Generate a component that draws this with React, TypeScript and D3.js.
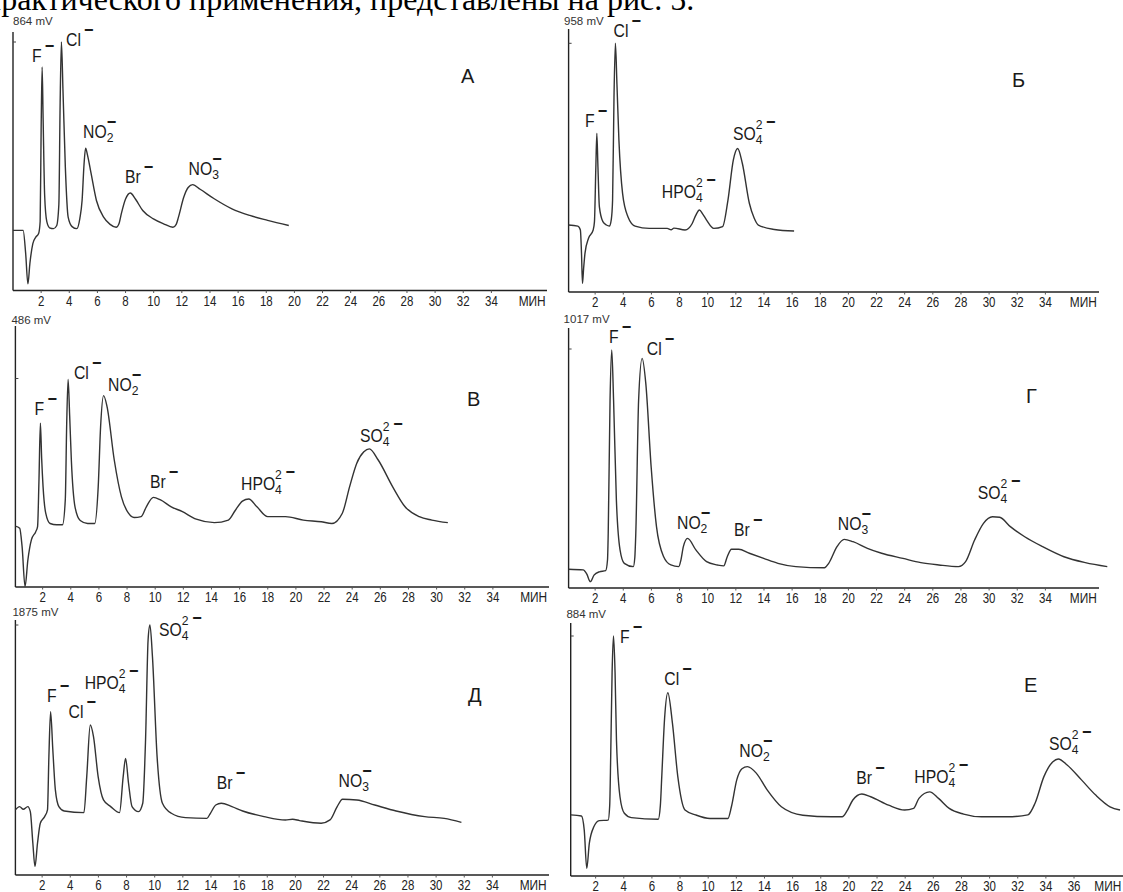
import React from 'react';
import * as d3 from 'd3';

// ---------- data (time, min ; signal, mV) ----------
const TICKS_34 = [2, 4, 6, 8, 10, 12, 14, 16, 18, 20, 22, 24, 26, 28, 30, 32, 34];
const TICKS_36 = [2, 4, 6, 8, 10, 12, 14, 16, 18, 20, 22, 24, 26, 28, 30, 32, 34, 36];
const UNIT = 'МИН';
const HEADER = 'практического применения, представлены на рис. 5.';

const seriesA: [number, number][] = [
  [0, 209], [0.72, 209], [0.9, 129], [1.06, 23], [1.2, 94], [1.41, 163], [1.61, 185], [1.82, 198],
  [1.93, 240], [2.0, 560], [2.07, 777], [2.14, 600], [2.25, 330], [2.4, 240], [2.6, 218], [2.88, 215],
  [3.1, 225], [3.26, 300], [3.35, 650], [3.44, 864], [3.55, 700], [3.72, 429], [3.92, 255], [4.2, 222],
  [4.53, 215], [4.75, 250], [4.91, 313], [5.05, 440], [5.16, 495], [5.3, 470], [5.55, 407], [5.93, 313],
  [6.44, 255], [6.9, 230], [7.33, 220], [7.55, 235], [7.7, 267], [8.0, 318], [8.34, 339], [8.7, 318],
  [9.22, 278], [9.98, 249], [10.7, 232], [11.37, 220], [11.6, 230], [11.76, 255], [12.14, 325],
  [12.45, 358], [12.77, 368], [13.3, 352], [14.3, 319], [15.56, 284], [16.83, 261], [18.1, 244], [19.6, 226],
];

const seriesB: [number, number][] = [
  [0.1, 258], [0.77, 254], [0.95, 239], [1.03, 150], [1.1, 33], [1.18, 90], [1.28, 150], [1.53, 207],
  [1.86, 239], [1.95, 270], [2.05, 480], [2.12, 611], [2.2, 480], [2.3, 329], [2.55, 271], [2.8, 258],
  [3.01, 254], [3.15, 280], [3.24, 354], [3.34, 750], [3.44, 958], [3.55, 800], [3.69, 585], [3.95, 380],
  [4.33, 290], [4.84, 254], [5.85, 245], [7.12, 245], [7.4, 240], [7.6, 246], [8.39, 239], [8.9, 264],
  [9.15, 295], [9.41, 316], [9.65, 300], [9.92, 277], [10.43, 245], [11.06, 252], [11.44, 354],
  [11.82, 508], [12.13, 553], [12.46, 496], [12.96, 342], [13.3, 285], [13.6, 258], [14.74, 241], [16.14, 235],
];

const seriesV: [number, number][] = [
  [0.06, 142], [0.37, 137], [0.54, 94], [0.75, 1], [0.95, 63], [1.2, 110], [1.51, 129], [1.64, 141],
  [1.74, 250], [1.84, 382], [1.93, 300], [2.03, 234], [2.22, 172], [2.53, 148], [3.0, 145], [3.41, 145],
  [3.61, 203], [3.71, 380], [3.81, 484], [3.92, 400], [4.04, 296], [4.3, 187], [4.67, 155], [5.2, 148],
  [5.7, 148], [5.95, 234], [6.12, 374], [6.33, 446], [6.58, 420], [7.09, 296], [7.6, 210], [8.1, 172],
  [8.5, 162], [9.0, 164], [9.37, 187], [9.87, 209], [10.38, 203], [11.14, 187], [11.9, 176], [12.92, 158],
  [14.2, 150], [15.2, 156], [15.7, 179], [16.2, 200], [16.65, 205], [17.23, 187], [17.99, 164],
  [19.26, 164], [20.53, 156], [21.8, 152], [22.56, 148], [23.3, 172], [23.82, 234], [24.32, 288],
  [24.83, 315], [25.22, 322], [25.85, 296], [26.87, 234], [27.76, 187], [28.77, 164], [29.66, 156], [30.8, 150],
];

const seriesG: [number, number][] = [
  [0.11, 80], [1.15, 77], [1.4, 60], [1.66, 27], [1.92, 55], [2.3, 69], [2.75, 74], [2.88, 120],
  [2.93, 233], [3.06, 800], [3.18, 1013], [3.31, 800], [3.51, 374], [3.77, 162], [4.07, 105], [4.71, 91],
  [4.82, 130], [4.89, 233], [5.09, 800], [5.34, 977], [5.6, 871], [5.98, 516], [6.36, 261], [6.87, 133],
  [7.38, 98], [7.94, 91], [8.1, 120], [8.27, 176], [8.57, 211], [9.16, 162], [9.92, 112], [10.68, 98],
  [11.14, 94], [11.39, 133], [11.69, 165], [12.2, 165], [12.96, 148], [13.98, 126], [14.99, 105],
  [16.27, 91], [18.3, 86], [18.6, 105], [19.19, 176], [19.7, 207], [20.33, 197], [21.35, 169],
  [22.36, 148], [23.88, 126], [25.15, 108], [26.43, 98], [27.82, 91], [28.33, 112], [28.97, 204],
  [29.6, 275], [30.24, 303], [30.75, 301], [31.51, 261], [32.53, 218], [33.8, 176], [35.32, 133],
  [36.84, 108], [38.4, 91],
];

const seriesD: [number, number][] = [
  [0.09, 488], [0.4, 513], [0.66, 493], [0.98, 513], [1.16, 475], [1.34, 238], [1.49, 63], [1.67, 238],
  [1.87, 388], [2.18, 438], [2.38, 488], [2.48, 888], [2.6, 1225], [2.76, 938], [2.94, 638], [3.19, 513],
  [3.57, 480], [4.97, 468], [5.17, 738], [5.42, 1125], [5.65, 1038], [5.98, 738], [6.36, 563], [6.87, 513],
  [7.5, 468], [7.76, 738], [7.93, 875], [8.14, 688], [8.39, 513], [8.85, 475], [9.15, 538], [9.35, 1013],
  [9.53, 1763], [9.66, 1875], [9.84, 1638], [10.17, 888], [10.55, 538], [11.18, 463], [12.19, 430],
  [13.71, 425], [13.96, 463], [14.34, 525], [14.73, 538], [15.49, 513], [16.25, 480], [17.77, 438],
  [19.29, 413], [19.8, 418], [20.3, 408], [21.83, 388], [22.46, 413], [22.97, 513], [23.35, 568],
  [24.37, 563], [25.64, 525], [27.16, 480], [29.19, 438], [30.58, 425], [31.8, 395],
];

const seriesE: [number, number][] = [
  [0.23, 225], [0.99, 221], [1.19, 169], [1.37, 28], [1.55, 120], [1.88, 182], [2.26, 204], [2.89, 206],
  [3.0, 260], [3.07, 439], [3.17, 750], [3.27, 884], [3.38, 750], [3.48, 501], [3.73, 292], [4.04, 231],
  [4.54, 215], [6.45, 209], [6.6, 260], [6.7, 366], [6.9, 580], [7.13, 675], [7.46, 562], [7.84, 366],
  [8.35, 243], [9.11, 225], [10.13, 212], [11.4, 212], [11.65, 255], [12.03, 354], [12.4, 395],
  [12.79, 403], [13.43, 378], [14.19, 317], [15.2, 255], [16.73, 224], [18.76, 218], [19.52, 218],
  [19.9, 243], [20.28, 280], [20.92, 302], [21.55, 292], [22.82, 261], [23.96, 243], [24.6, 249],
  [24.98, 286], [25.74, 310], [26.37, 286], [27.13, 249], [28.15, 228], [29.42, 218], [31.2, 218],
  [32.72, 225], [33.23, 268], [33.86, 366], [34.5, 421], [34.88, 431], [35.51, 409], [36.53, 354],
  [37.54, 298], [38.56, 255], [39.27, 243],
];

type Ion = { base: string; sub: string; sup: string; t: number; v: number };

const ionsA: Ion[] = [
  { base: 'F', sub: '', sup: '', t: 1.35, v: 794 },
  { base: 'Cl', sub: '', sup: '', t: 3.77, v: 851 },
  { base: 'NO', sub: '2', sup: '', t: 4.98, v: 531 },
  { base: 'Br', sub: '', sup: '', t: 7.96, v: 375 },
  { base: 'NO', sub: '3', sup: '', t: 12.48, v: 402 },
];
const ionsB: Ion[] = [
  { base: 'F', sub: '', sup: '', t: 1.28, v: 637 },
  { base: 'Cl', sub: '', sup: '', t: 3.31, v: 983 },
  { base: 'HPO', sub: '4', sup: '2', t: 6.74, v: 361 },
  { base: 'SO', sub: '4', sup: '2', t: 11.8, v: 586 },
];
const ionsV: Ion[] = [
  { base: 'F', sub: '', sup: '', t: 1.43, v: 401 },
  { base: 'Cl', sub: '', sup: '', t: 4.23, v: 484 },
  { base: 'NO', sub: '2', sup: '', t: 6.65, v: 458 },
  { base: 'Br', sub: '', sup: '', t: 9.63, v: 230 },
  { base: 'HPO', sub: '4', sup: '2', t: 16.1, v: 226 },
  { base: 'SO', sub: '4', sup: '2', t: 24.56, v: 339 },
];
const ionsG: Ion[] = [
  { base: 'F', sub: '', sup: '', t: 2.99, v: 1044 },
  { base: 'Cl', sub: '', sup: '', t: 5.67, v: 991 },
  { base: 'NO', sub: '2', sup: '', t: 7.82, v: 250 },
  { base: 'Br', sub: '', sup: '', t: 11.87, v: 221 },
  { base: 'NO', sub: '3', sup: '', t: 19.25, v: 247 },
  { base: 'SO', sub: '4', sup: '2', t: 29.2, v: 377 },
];
const ionsD: Ion[] = [
  { base: 'F', sub: '', sup: '', t: 2.35, v: 1300 },
  { base: 'Cl', sub: '', sup: '', t: 3.88, v: 1180 },
  { base: 'HPO', sub: '4', sup: '2', t: 5.02, v: 1395 },
  { base: 'SO', sub: '4', sup: '2', t: 10.31, v: 1793 },
  { base: 'Br', sub: '', sup: '', t: 14.41, v: 643 },
  { base: 'NO', sub: '3', sup: '', t: 23.07, v: 662 },
];
const ionsE: Ion[] = [
  { base: 'F', sub: '', sup: '', t: 3.73, v: 859 },
  { base: 'Cl', sub: '', sup: '', t: 6.88, v: 703 },
  { base: 'NO', sub: '2', sup: '', t: 12.21, v: 439 },
  { base: 'Br', sub: '', sup: '', t: 20.53, v: 339 },
  { base: 'HPO', sub: '4', sup: '2', t: 24.65, v: 341 },
  { base: 'SO', sub: '4', sup: '2', t: 34.22, v: 464 },
];

const PANEL_LETTERS = ['А', 'Б', 'В', 'Г', 'Д', 'Е'];
const MAX_MV = [864, 958, 486, 1017, 1875, 884];
const LETTER_POS: [number, number][] = [[31.84, 721], [31.63, 789], [32.16, 422], [32.62, 788], [32.27, 1300], [32.44, 679]];
const UNIT_T = [36.9, 36.7, 36.9, 36.7, 36.9, 38.4];

// ---------- layout ----------
const PX_PER_MIN = 14.07;
type Layout = { x0: number; axisX: number; bottom: number; top: number; maxPx: number; axisEnd: number; mvDX: number; mvDY: number };
const LAYOUTS: Layout[] = [
  { x0: 13, axisX: 13, bottom: 290.5, top: 32, maxPx: 42, axisEnd: 547, mvDX: 0, mvDY: -7 },
  { x0: 567, axisX: 568.6, bottom: 292, top: 29, maxPx: 43.3, axisEnd: 1099, mvDX: -4.6, mvDY: -4 },
  { x0: 14.5, axisX: 15.4, bottom: 587, top: 326, maxPx: 378.5, axisEnd: 549, mvDX: -4, mvDY: -2 },
  { x0: 567, axisX: 568.6, bottom: 588, top: 328, maxPx: 349, axisEnd: 1099, mvDX: -5, mvDY: -4.7 },
  { x0: 14, axisX: 15.4, bottom: 875, top: 620, maxPx: 625, axisEnd: 549, mvDX: -3, mvDY: -4 },
  { x0: 567.5, axisX: 570.7, bottom: 876, top: 623, maxPx: 636, axisEnd: 1123, mvDX: -4.3, mvDY: -4.7 },
];

const SERIES = [seriesA, seriesB, seriesV, seriesG, seriesD, seriesE];
const IONS = [ionsA, ionsB, ionsV, ionsG, ionsD, ionsE];
const TICKS = [TICKS_34, TICKS_34, TICKS_34, TICKS_34, TICKS_34, TICKS_36];

const SANS = '"Liberation Sans", Arial, Helvetica, sans-serif';
const INK = '#1a1a1a';
const LINE = '#333';

function IonLabel({ x, y, ion }: { x: number; y: number; ion: Ion }) {
  const hasSub = ion.sub !== '';
  const hasSup = ion.sup !== '';
  let cdx = 3.5;
  let cdy = -10;
  if (hasSub && !hasSup) { cdx = -7.4; cdy = -14; }
  if (hasSub && hasSup) { cdx = 4; cdy = -1; }
  return (
    <text transform={`translate(${x},${y}) scale(0.9,1)`} fontSize={17.5} fontFamily={SANS} fill={INK}>
      <tspan>{ion.base}</tspan>
      {hasSub ? <tspan fontSize={13.5} dy={4}>{ion.sub}</tspan> : null}
      {hasSup ? <tspan fontSize={13.5} dx={-7.5} dy={-15}>{ion.sup}</tspan> : null}
      <tspan fontWeight="bold" fontSize={18} dx={cdx} dy={cdy}>−</tspan>
    </text>
  );
}

function Panel({ i }: { i: number }) {
  const L = LAYOUTS[i];
  const x = d3.scaleLinear().domain([0, 40]).range([L.x0, L.x0 + 40 * PX_PER_MIN]);
  const y = d3.scaleLinear().domain([0, MAX_MV[i]]).range([L.bottom, L.maxPx]);
  const line = d3.line<[number, number]>().x((d) => x(d[0])).y((d) => y(d[1])).curve(d3.curveMonotoneX);
  const ticks = TICKS[i];
  return (
    <g>
      <line x1={L.axisX} x2={L.axisX} y1={L.top} y2={L.bottom} stroke="#222" strokeWidth={1.4} />
      <line x1={L.axisX} x2={L.axisEnd} y1={L.bottom} y2={L.bottom} stroke="#222" strokeWidth={1.4} />
      <line x1={L.axisX} x2={L.axisX + 3} y1={y(MAX_MV[i])} y2={y(MAX_MV[i])} stroke="#444" strokeWidth={1} />
      {ticks.map((t) => (
        <g key={t}>
          <line x1={x(t)} x2={x(t)} y1={L.bottom} y2={L.bottom + 2.5} stroke="#555" strokeWidth={1} />
          <text transform={`translate(${x(t)},${L.bottom + 15}) scale(0.82,1)`} textAnchor="middle"
            fontSize={14} fontFamily={SANS} fill="#222">{t}</text>
        </g>
      ))}
      <text transform={`translate(${x(UNIT_T[i])},${L.bottom + 15}) scale(0.85,1)`} textAnchor="middle"
        fontSize={14} fontFamily={SANS} fill="#222">{UNIT}</text>
      <text x={L.axisX + L.mvDX} y={L.top + L.mvDY} fontSize={11.5} fontFamily={SANS} fill="#333">{`${MAX_MV[i]} mV`}</text>
      <path d={line(SERIES[i]) || ''} fill="none" stroke={LINE} strokeWidth={1.4} strokeLinejoin="round" />
      {IONS[i].map((ion, k) => (
        <IonLabel key={k} x={x(ion.t)} y={y(ion.v)} ion={ion} />
      ))}
      <text x={x(LETTER_POS[i][0])} y={y(LETTER_POS[i][1])} fontSize={20} fontFamily={SANS} fill={INK}>{PANEL_LETTERS[i]}</text>
    </g>
  );
}

export default function App() {
  return (
    <div style={{ position: 'absolute', left: 0, top: 0, width: 1123, height: 892, background: '#fff' }}>
      <svg width={1123} height={892} viewBox="0 0 1123 892" style={{ display: 'block' }}>
        <rect x={0} y={0} width={1123} height={892} fill="#fff" />
        <text x={-16} y={10} fontSize={32} fontFamily='"Liberation Serif", "Times New Roman", serif' fill="#000">{HEADER}</text>
        {[0, 1, 2, 3, 4, 5].map((i) => <Panel key={i} i={i} />)}
      </svg>
    </div>
  );
}
